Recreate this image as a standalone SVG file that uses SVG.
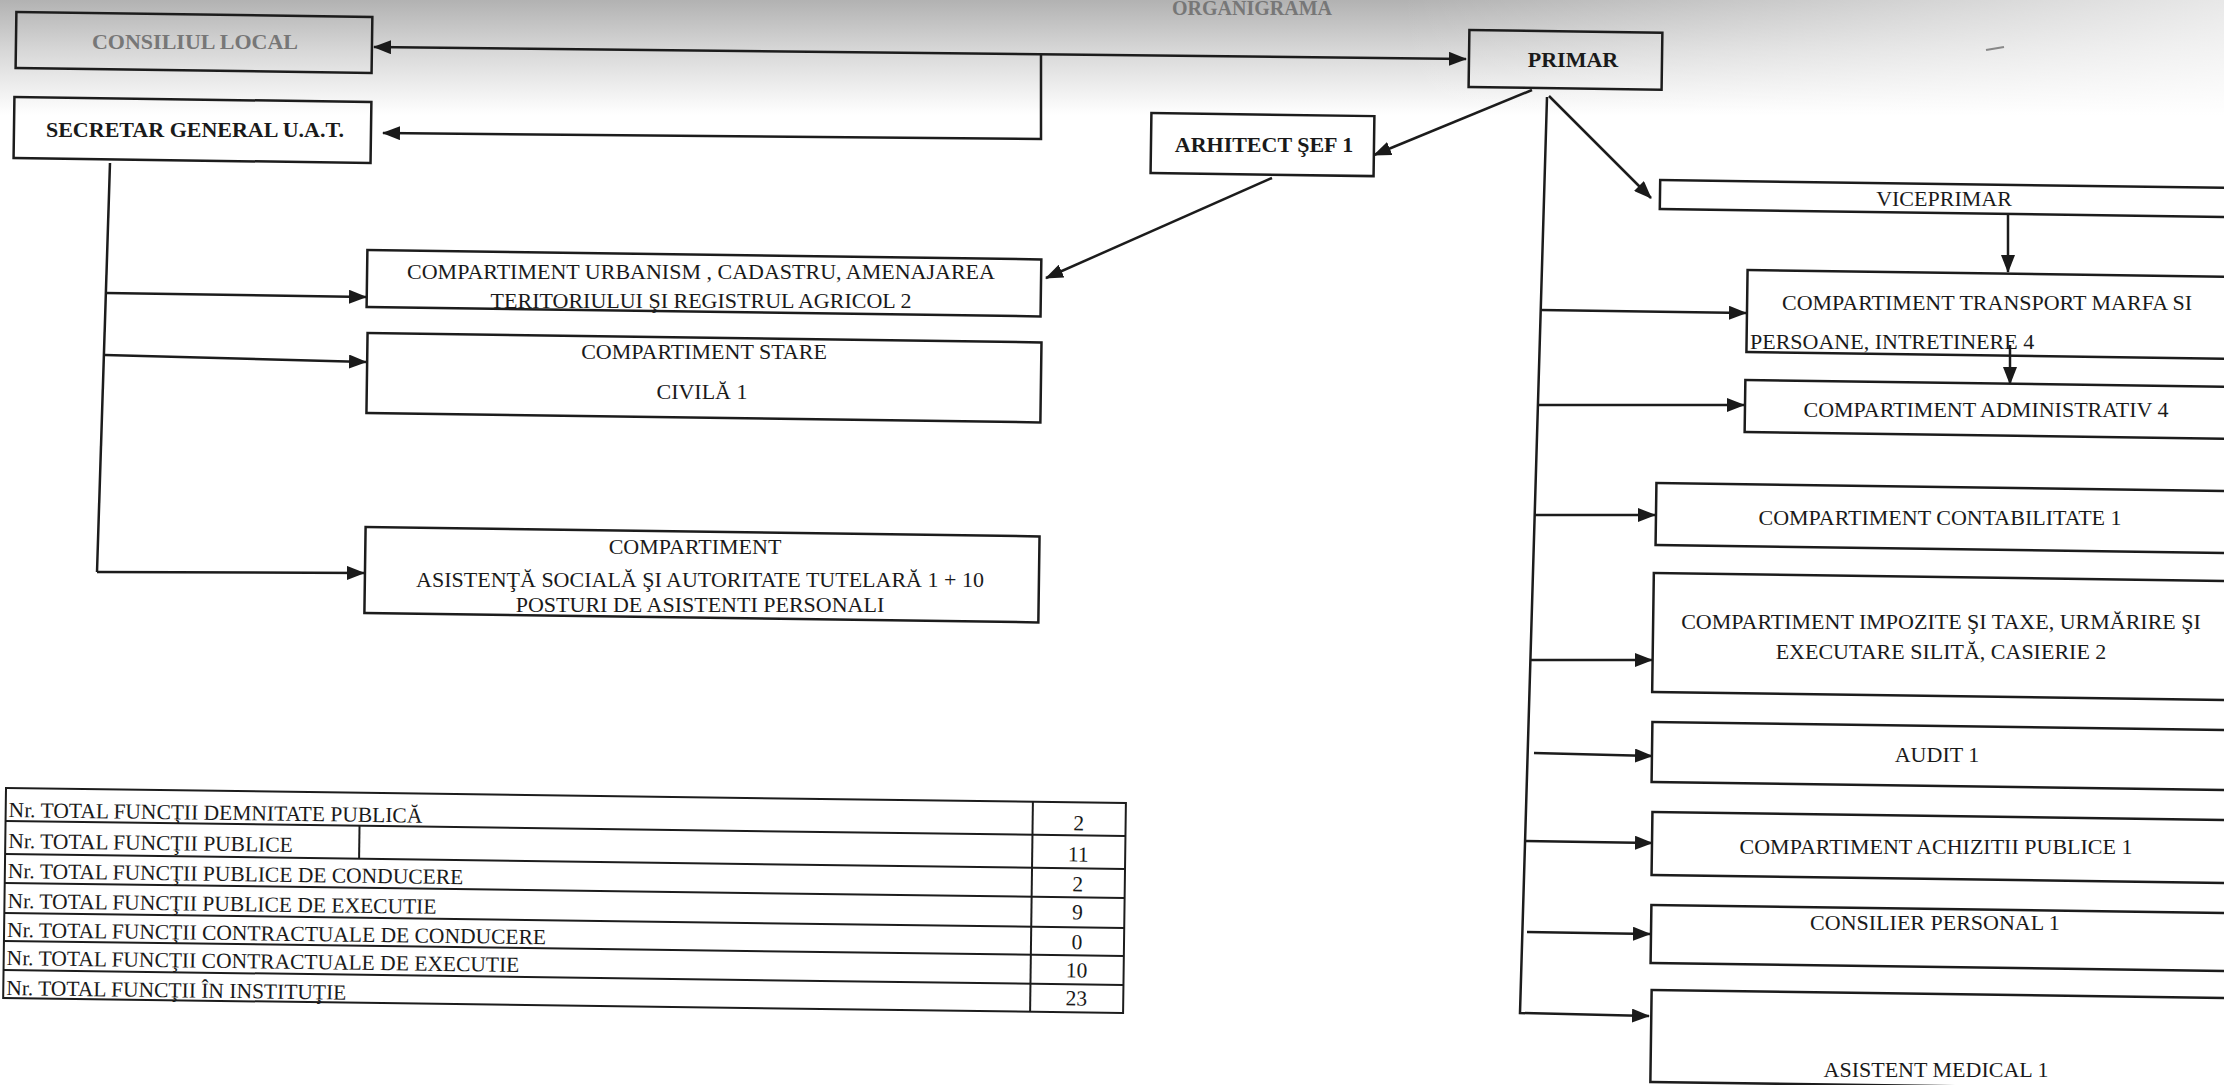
<svg xmlns="http://www.w3.org/2000/svg" width="2224" height="1085" viewBox="0 0 2224 1085">
<defs>
<linearGradient id="topShade" x1="0" y1="0" x2="0" y2="1">
<stop offset="0" stop-color="#b2b2b2"/>
<stop offset="0.45" stop-color="#d8d8d8"/>
<stop offset="1" stop-color="#ffffff"/>
</linearGradient>
<linearGradient id="rightFade" x1="0" y1="0" x2="1" y2="0">
<stop offset="0" stop-color="#ffffff" stop-opacity="0"/>
<stop offset="1" stop-color="#ffffff" stop-opacity="0.7"/>
</linearGradient>
<marker id="ah" viewBox="0 0 18 14" refX="17" refY="7" markerWidth="18" markerHeight="14" markerUnits="userSpaceOnUse" orient="auto-start-reverse">
<path d="M0,0 L18,7 L0,14 z" fill="#1a1a1a"/>
</marker>
</defs>
<style>
.box{fill:none;stroke:#1c1c1c;stroke-width:2.5}
.ln{fill:none;stroke:#1c1c1c;stroke-width:2.5}
.t{font-family:"Liberation Serif","Times New Roman",serif;font-size:22px;fill:#1a1a1a}
.tt{font-family:"Liberation Serif","Times New Roman",serif;font-size:21.5px;fill:#1a1a1a}
.c{text-anchor:middle}
.b{font-weight:bold}
.g{fill:#777777}
.tb{fill:none;stroke:#1c1c1c;stroke-width:2}
</style>
<rect x="0" y="0" width="2224" height="1085" fill="#ffffff"/>
<rect x="0" y="0" width="2224" height="115" fill="url(#topShade)"/>
<rect x="1400" y="0" width="824" height="115" fill="url(#rightFade)"/>
<text class="t b c g" x="1252" y="15" style="font-size:20px">ORGANIGRAMA</text>
<line x1="1986" y1="50" x2="2004" y2="47" stroke="#888" stroke-width="2"/>

<g id="connectors">
<line class="ln" x1="374" y1="47" x2="1466" y2="59" marker-start="url(#ah)" marker-end="url(#ah)"/>
<polyline class="ln" points="1041,54 1041,139 383,133" marker-end="url(#ah)"/>
<line class="ln" x1="110" y1="163" x2="97" y2="572"/>
<line class="ln" x1="106" y1="293" x2="366" y2="297" marker-end="url(#ah)"/>
<line class="ln" x1="105" y1="355" x2="366" y2="362" marker-end="url(#ah)"/>
<line class="ln" x1="97" y1="572" x2="364" y2="573" marker-end="url(#ah)"/>
<line class="ln" x1="1272" y1="178" x2="1046" y2="278" marker-end="url(#ah)"/>
<line class="ln" x1="1532" y1="90" x2="1374" y2="155" marker-end="url(#ah)"/>
<line class="ln" x1="1549" y1="96" x2="1651" y2="198" marker-end="url(#ah)"/>
<polyline class="ln" points="1547,97 1520,1013 1649,1016" marker-end="url(#ah)"/>
<line class="ln" x1="1541" y1="310" x2="1746" y2="313" marker-end="url(#ah)"/>
<line class="ln" x1="1538" y1="405" x2="1744" y2="405" marker-end="url(#ah)"/>
<line class="ln" x1="1535" y1="515" x2="1655" y2="515" marker-end="url(#ah)"/>
<line class="ln" x1="1530" y1="660" x2="1652" y2="660" marker-end="url(#ah)"/>
<line class="ln" x1="1534" y1="753" x2="1652" y2="756" marker-end="url(#ah)"/>
<line class="ln" x1="1525" y1="841" x2="1652" y2="843" marker-end="url(#ah)"/>
<line class="ln" x1="1527" y1="932" x2="1650" y2="934" marker-end="url(#ah)"/>
<line class="ln" x1="2008" y1="213" x2="2008" y2="272" marker-end="url(#ah)"/>
<line class="ln" x1="2010" y1="345" x2="2010" y2="384" marker-end="url(#ah)"/>
</g>

<g id="consiliul-local">
<rect class="box" x="16" y="12" width="356" height="56" transform="rotate(0.8 16 40)"/>
<text class="t c b g" x="195" y="49">CONSILIUL LOCAL</text>
</g>
<g id="secretar-general">
<rect class="box" x="14" y="97" width="357" height="61" transform="rotate(0.8 14 127.5)"/>
<text class="t c b" x="195" y="137">SECRETAR GENERAL U.A.T.</text>
</g>
<g id="primar">
<rect class="box" x="1469" y="30" width="193" height="57" transform="rotate(0.8 1469 58.5)"/>
<text class="t c b" x="1573" y="67">PRIMAR</text>
</g>
<g id="arhitect-sef">
<rect class="box" x="1151" y="113" width="223" height="60" transform="rotate(0.8 1151 143)"/>
<text class="t c b" x="1264" y="152">ARHITECT ŞEF 1</text>
</g>
<g id="viceprimar">
<rect class="box" x="1660" y="180" width="620" height="29" transform="rotate(0.8 1660 194.5)"/>
<text class="t c" x="1944" y="206">VICEPRIMAR</text>
</g>
<g id="transport">
<rect class="box" x="1747" y="270" width="540" height="82" transform="rotate(0.8 1747 311)"/>
<text class="t c" x="1987" y="310">COMPARTIMENT TRANSPORT MARFA SI</text>
<text class="t" x="1750" y="349">PERSOANE, INTRETINERE 4</text>
</g>
<g id="administrativ">
<rect class="box" x="1745" y="380" width="540" height="52" transform="rotate(0.8 1745 406)"/>
<text class="t c" x="1986" y="417">COMPARTIMENT ADMINISTRATIV 4</text>
</g>
<g id="contabilitate">
<rect class="box" x="1656" y="483" width="620" height="62" transform="rotate(0.8 1656 514)"/>
<text class="t c" x="1940" y="525">COMPARTIMENT CONTABILITATE 1</text>
</g>
<g id="impozite">
<rect class="box" x="1653" y="573" width="620" height="119" transform="rotate(0.8 1653 632.5)"/>
<text class="t c" x="1941" y="629">COMPARTIMENT IMPOZITE ŞI TAXE, URMĂRIRE ŞI</text>
<text class="t c" x="1941" y="659">EXECUTARE SILITĂ, CASIERIE 2</text>
</g>
<g id="audit">
<rect class="box" x="1652" y="722" width="620" height="60" transform="rotate(0.8 1652 752)"/>
<text class="t c" x="1937" y="762">AUDIT 1</text>
</g>
<g id="achizitii">
<rect class="box" x="1652" y="812" width="620" height="63" transform="rotate(0.8 1652 843.5)"/>
<text class="t c" x="1936" y="854">COMPARTIMENT ACHIZITII PUBLICE 1</text>
</g>
<g id="consilier">
<rect class="box" x="1651" y="905" width="620" height="58" transform="rotate(0.8 1651 934)"/>
<text class="t c" x="1935" y="930">CONSILIER PERSONAL 1</text>
</g>
<g id="asistent-medical">
<rect class="box" x="1651" y="990" width="620" height="92" transform="rotate(0.8 1651 1036)"/>
<text class="t c" x="1936" y="1077">ASISTENT MEDICAL 1</text>
</g>
<g id="urbanism">
<rect class="box" x="367" y="250" width="674" height="57" transform="rotate(0.8 367 278.5)"/>
<text class="t c" x="701" y="279">COMPARTIMENT URBANISM , CADASTRU, AMENAJAREA</text>
<text class="t c" x="701" y="308">TERITORIULUI ŞI REGISTRUL AGRICOL 2</text>
</g>
<g id="stare-civila">
<rect class="box" x="367" y="333" width="674" height="80" transform="rotate(0.8 367 373)"/>
<text class="t c" x="704" y="359">COMPARTIMENT STARE</text>
<text class="t c" x="702" y="399">CIVILĂ 1</text>
</g>
<g id="asistenta-sociala">
<rect class="box" x="365" y="527" width="674" height="86" transform="rotate(0.8 365 570)"/>
<text class="t c" x="695" y="554">COMPARTIMENT</text>
<text class="t c" x="700" y="587">ASISTENŢĂ SOCIALĂ ŞI AUTORITATE TUTELARĂ 1 + 10</text>
<text class="t c" x="700" y="612">POSTURI DE ASISTENTI PERSONALI</text>
</g>

<g id="tabel-functii" transform="rotate(0.77 6 788)">
<rect class="tb" x="6" y="788" width="1120" height="210"/>
<line class="tb" x1="6" y1="821" x2="1126" y2="821"/>
<line class="tb" x1="6" y1="854" x2="1126" y2="854"/>
<line class="tb" x1="6" y1="883" x2="1126" y2="883"/>
<line class="tb" x1="6" y1="913" x2="1126" y2="913"/>
<line class="tb" x1="6" y1="941" x2="1126" y2="941"/>
<line class="tb" x1="6" y1="970" x2="1126" y2="970"/>
<line class="tb" x1="1033" y1="788" x2="1033" y2="998"/>
<line class="tb" x1="360" y1="821" x2="360" y2="854"/>
<text class="tt" x="9" y="817">Nr. TOTAL FUNCŢII DEMNITATE PUBLICĂ</text>
<text class="tt" x="9" y="848">Nr. TOTAL FUNCŢII PUBLICE</text>
<text class="tt" x="9" y="878">Nr. TOTAL FUNCŢII PUBLICE DE CONDUCERE</text>
<text class="tt" x="9" y="908">Nr. TOTAL FUNCŢII PUBLICE DE EXECUTIE</text>
<text class="tt" x="9" y="937">Nr. TOTAL FUNCŢII CONTRACTUALE DE CONDUCERE</text>
<text class="tt" x="9" y="965">Nr. TOTAL FUNCŢII CONTRACTUALE DE EXECUTIE</text>
<text class="tt" x="9" y="995">Nr. TOTAL FUNCŢII ÎN INSTITUŢIE</text>
<text class="tt c" x="1079" y="816">2</text>
<text class="tt c" x="1079" y="847">11</text>
<text class="tt c" x="1079" y="877">2</text>
<text class="tt c" x="1079" y="905">9</text>
<text class="tt c" x="1079" y="935">0</text>
<text class="tt c" x="1079" y="963">10</text>
<text class="tt c" x="1079" y="991">23</text>
</g>
</svg>
